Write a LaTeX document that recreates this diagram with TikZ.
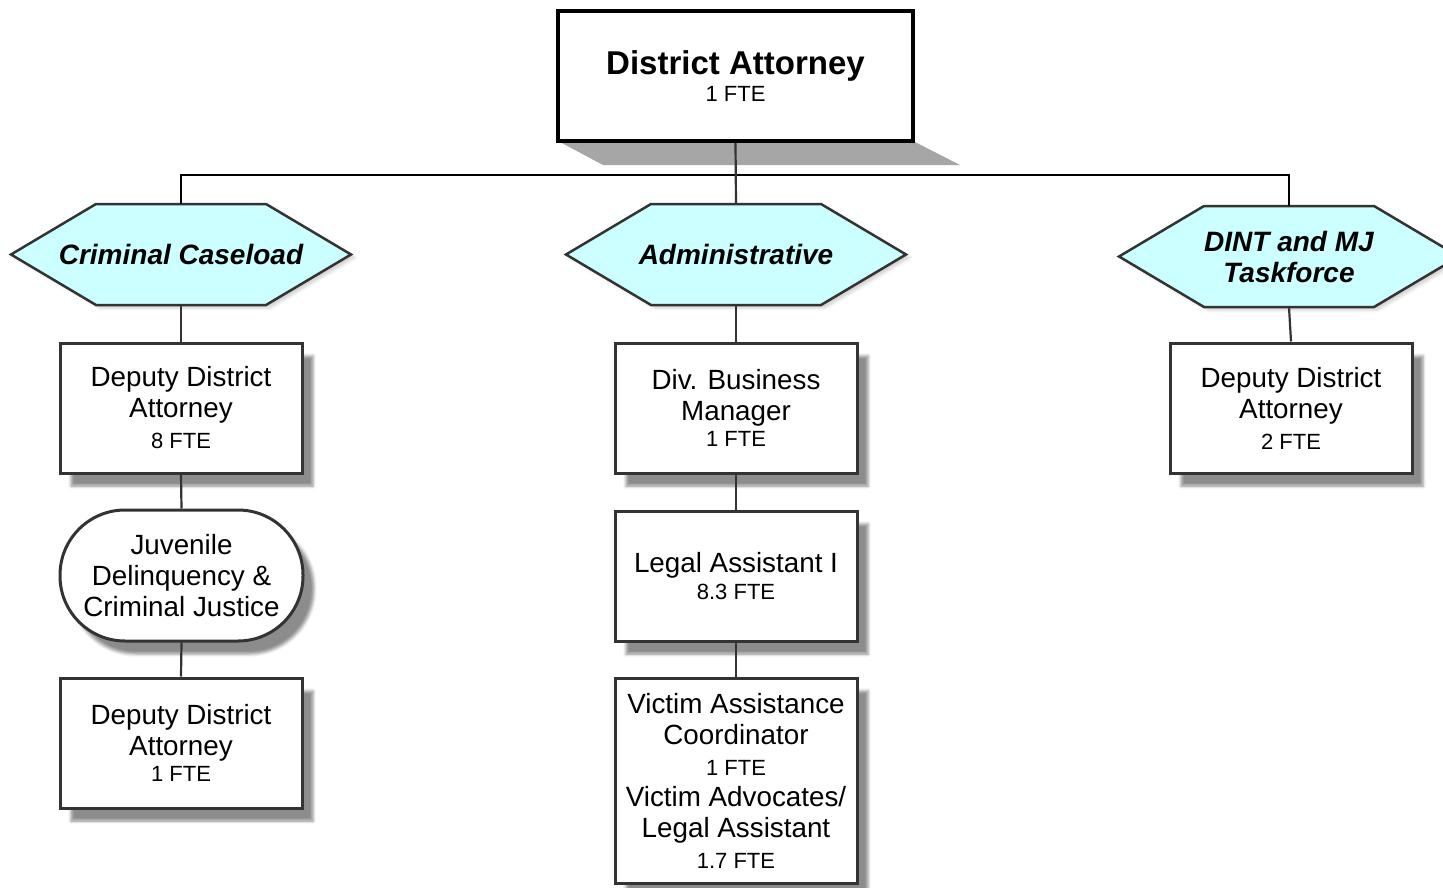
\documentclass[tikz,border=0pt]{standalone}
\usepackage{fontspec}
\setmainfont{Liberation Sans}
\usetikzlibrary{calc,shadows.blur}
\definecolor{hexfill}{HTML}{CCFFFF}
\definecolor{edgec}{HTML}{333333}
\definecolor{shadec}{HTML}{A6A6A6}
\newcommand{\msz}{\fontsize{27.8}{31}\selectfont}
\newcommand{\fsz}{\fontsize{22}{31}\selectfont}
\newcommand{\hsz}{\fontsize{28}{31}\selectfont\bfseries\itshape}
\tikzset{
  orgbox/.style={draw=edgec, line width=3pt, fill=white, minimum width=242pt, minimum height=130pt,
    inner sep=0pt, align=center, font=\msz,
    blur shadow={shadow xshift=11pt, shadow yshift=-13pt, shadow blur radius=3pt, shadow opacity=45}},
  hexlabel/.style={minimum width=340pt, minimum height=101pt, inner sep=0pt, align=center, font=\hsz},
  hexshape/.style={draw=edgec, line width=2.5pt, fill=hexfill,
    blur shadow={shadow xshift=4pt, shadow yshift=-3pt, shadow blur radius=3pt, shadow opacity=18}},
  conn/.style={draw=edgec, line width=2.2pt},
  bus/.style={draw=black, line width=1.5pt},
}
\begin{document}
\begin{tikzpicture}[x=1pt,y=-1pt]
\useasboundingbox (0,0) rectangle (1443,888);
\clip (0,0) rectangle (1443,888);
% top box shadow
\fill[shadec] (558,141) -- (913,141) -- (960,165) -- (603,165) -- cycle;
\node[draw=black, line width=4pt, fill=white, minimum width=355pt, minimum height=130pt, inner sep=0pt, align=center]
  (da) at (735.5,76) {{\fontsize{33}{38}\selectfont\bfseries District Attorney}\\[4pt]{\fsz 1 FTE}};

% hexagons
\foreach \cx/\cy in {181/254.5, 736/254.5, 1289/256.5}{
  \path[hexshape] (\cx-170,\cy) -- (\cx-85,\cy-50.5) -- (\cx+85,\cy-50.5) -- (\cx+170,\cy) -- (\cx+85,\cy+50.5) -- (\cx-85,\cy+50.5) -- cycle;
}
\node[hexlabel] (hexL) at (181,254.5) {Criminal Caseload};
\node[hexlabel] (hexM) at (736,254.5) {Administrative};
\node[hexlabel] (hexR) at (1289,256.5) {DINT and MJ\\Taskforce};

% left column
\node[orgbox] (l1) at (181,408) {Deputy District\\Attorney\\{\fsz 8 FTE}};
\node[orgbox, rounded corners=65pt, minimum width=243pt, minimum height=131pt] (l2) at (181.5,575.5) {Juvenile\\Delinquency \&\\Criminal Justice};
\node[orgbox] (l3) at (181,743) {Deputy District\\Attorney\\[-5pt]{\fsz 1 FTE}};

% middle column
\node[orgbox] (m1) at (736,408) {Div. Business\\Manager\\[-5pt]{\fsz 1 FTE}};
\node[orgbox] (m2) at (736,576) {Legal Assistant I\\[-4pt]{\fsz 8.3 FTE}};
\node[orgbox, minimum height=205pt] (m3) at (736,780.5) {Victim Assistance\\Coordinator\\{\fsz 1 FTE}\\Victim Advocates/\\Legal Assistant\\{\fsz 1.7 FTE}};

% right column
\node[orgbox] (r1) at (1291,408) {Deputy District\\Attorney\\{\fsz 2 FTE}};

% connectors
\coordinate (busy) at (0,175);
\draw[bus] (hexL.north) -- (hexL.north |- busy) -- (hexR.north |- busy) -- (hexR.north);
\draw[conn] (da.south) -- (hexM.north);
\draw[conn] (hexL.south) -- (l1.north);
\draw[conn] (l1.south) -- (l2.north);
\draw[conn] (l2.south) -- (l3.north);
\draw[conn] (hexM.south) -- (m1.north);
\draw[conn] (m1.south) -- (m2.north);
\draw[conn] (m2.south) -- (m3.north);
\draw[conn] (hexR.south) -- (r1.north);
\end{tikzpicture}
\end{document}
